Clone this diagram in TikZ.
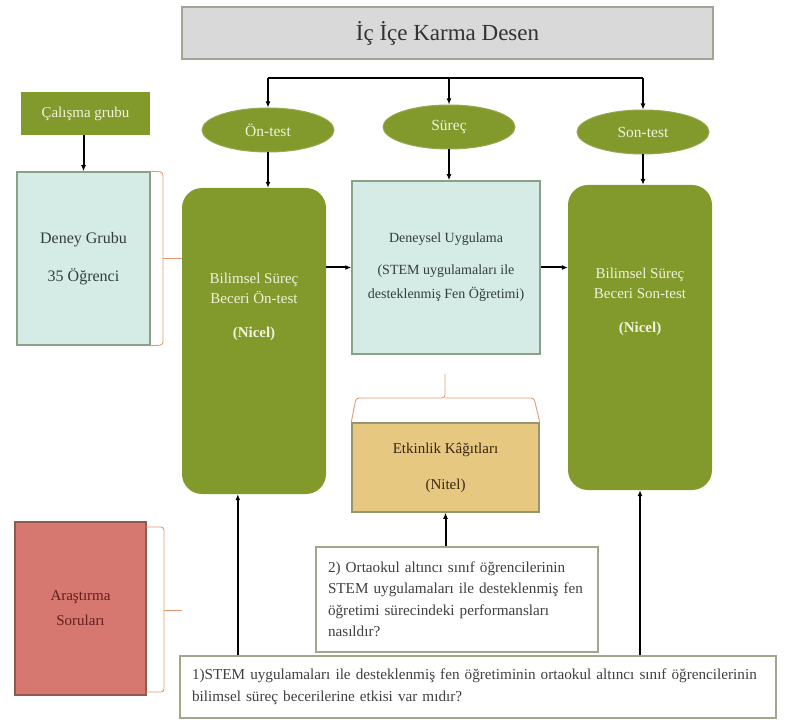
\documentclass[tikz,border=0pt]{standalone}
\usepackage{fontspec}
\setmainfont{Liberation Serif}
\usetikzlibrary{arrows.meta,shapes.geometric}
\definecolor{stemgreen}{RGB}{130,154,44}
\definecolor{gtext}{RGB}{240,242,220}
\definecolor{cyanbox}{RGB}{213,235,229}
\definecolor{cyanline}{RGB}{140,160,135}
\definecolor{titlegray}{RGB}{217,217,217}
\definecolor{titleline}{RGB}{160,165,150}
\definecolor{tanbox}{RGB}{230,200,128}
\definecolor{tanline}{RGB}{150,150,110}
\definecolor{redbox}{RGB}{214,120,112}
\definecolor{redline}{RGB}{140,90,80}
\definecolor{redtext}{RGB}{100,30,30}
\definecolor{bracecol}{RGB}{232,150,110}
\definecolor{qline}{RGB}{160,168,140}
\definecolor{darktext}{RGB}{50,62,58}
\begin{document}
\begin{tikzpicture}[x=1pt,y=-1pt,
        tsty/.style={rectangle,draw=titleline,line width=1.5pt,fill=titlegray,
            minimum width=531pt,minimum height=52pt,text=black!80,
            font=\fontsize{23}{27}\selectfont},
        esty/.style={ellipse,fill=stemgreen,draw=stemgreen!85!white,line width=1pt,
            minimum width=132pt,minimum height=44pt,inner sep=0pt,text=gtext,
            font=\fontsize{15.5}{18}\selectfont},
        gsty/.style={rectangle,rounded corners=20pt,fill=stemgreen,
            minimum width=144pt,minimum height=306pt},
        gtsty/.style={align=center,text=gtext,font=\fontsize{15}{20}\selectfont},
        csty/.style={rectangle,draw=cyanline,line width=1.5pt,fill=cyanbox,
            align=center,text=darktext,font=\fontsize{15}{20}\selectfont},
        qsty/.style={rectangle,draw=qline,line width=2pt,fill=white,align=left,
            text=black!75,inner sep=12pt,font=\fontsize{15.2}{21.5}\selectfont},
        asty/.style={-{Latex[length=6pt,width=5pt]},line width=2pt},
        bsty/.style={draw=bracecol,line width=0.9pt,rounded corners=3pt},
    ]
    \useasboundingbox (0,0) rectangle (785,722);
    \node (title) at (447.5,33) [tsty] {İç İçe Karma Desen};
    \foreach \n/\x/\y/\t in {ont/268/130/Ön-test,sur/449/127/Süreç,sont/643/132/Son-test}{
        \node (\n) at (\x,\y) [esty] {\t};
    }
    \coordinate (bus) at (0,78);
    \draw[line width=2pt] (ont.north |- bus) -- (sont.north |- bus);
    \foreach \n in {ont,sur,sont}{
        \draw[asty] (\n.north |- bus) -- (\n.north);
    }
    % left column
    \node (grp) at (85.5,113.5) [rectangle,fill=stemgreen,minimum width=129pt,
        minimum height=43pt,text=gtext,font=\fontsize{15}{18}\selectfont] {Çalışma grubu};
    \node (deney) at (83.5,258.5) [csty,minimum width=133pt,minimum height=173pt,
        font=\fontsize{16}{20}\selectfont] {Deney Grubu\\[18pt]35 Öğrenci};
    \draw[asty] (grp.south -| deney.north) -- (deney.north);
    \draw[bsty] (deney.north east) -- (163,172) -- (163,345) -- (deney.south east);
    \draw[bsty] (163,258) -- (182,258);
    \node (aras) at (80.5,608.5) [rectangle,draw=redline,line width=1.5pt,fill=redbox,
        minimum width=131pt,minimum height=173pt,align=center,text=redtext,
        font=\fontsize{15}{25}\selectfont] {Araştırma\\Soruları};
    \draw[bsty] (146,527) -- (164,527) -- (164,692) -- (146,692);
    \draw[bsty] (164,610) -- (182,610);
    % main row
    \node (onbox) at (254,341) [gsty] {};
    \node (ontxt) at (254,307) [gtsty] {Bilimsel Süreç\\Beceri Ön-test\\[14pt]\textbf{(Nicel)}};
    \node (deneysel) at (446,267.5) [csty,minimum width=188pt,minimum height=173pt,
        font=\fontsize{14}{24}\selectfont]
        {Deneysel Uygulama\\[8pt](STEM uygulamaları ile\\desteklenmiş Fen Öğretimi)};
    \node (sonbox) at (640,337.5) [gsty,minimum height=305pt] {};
    \node (sontxt) at (640,302) [gtsty] {Bilimsel Süreç\\Beceri Son-test\\[14pt]\textbf{(Nicel)}};
    \draw[asty] (ont.south) -- (ont.south |- onbox.north);
    \draw[asty] (sur.south) -- (sur.south |- deneysel.north);
    \draw[asty] (sont.south) -- (sont.south |- sonbox.north);
    \draw[asty] (onbox.east |- deneysel.west) -- (deneysel.west);
    \draw[asty] (deneysel.east) -- (deneysel.east -| sonbox.west);
    % etkinlik
    \node (etk) at (445.5,467.5) [rectangle,draw=tanline,line width=1.5pt,fill=tanbox,
        minimum width=187pt,minimum height=89pt,align=center,text=black!70!brown,
        font=\fontsize{15}{22}\selectfont] {Etkinlik Kâğıtları\\[14pt](Nitel)};
    \draw[bsty] (etk.north west) -- (356,398) -- (445,398) -- (445,374);
    \draw[bsty] (445,398) -- (534,398) -- (etk.north east);
    % questions
    \node (q2) at (457,599.5) [qsty,minimum width=282pt,minimum height=105pt,
        text width=258pt] {2) Ortaokul altıncı sınıf öğrencilerinin\\STEM uygulamaları ile desteklenmiş fen\\öğretimi sürecindeki performansları\\nasıldır?};
    \node (q1) at (478,687) [qsty,minimum width=596pt,minimum height=62pt,
        text width=572pt] {1)STEM uygulamaları ile desteklenmiş fen öğretiminin ortaokul altıncı sınıf öğrencilerinin\\bilimsel süreç becerilerine etkisi var mıdır?};
    \draw[asty] (etk.south |- q2.north) -- (etk.south);
    \draw[asty] ([xshift=56pt]onbox.south west |- q1.north) -- ([xshift=56pt]onbox.south west);
    \draw[asty] (sonbox.south |- q1.north) -- (sonbox.south);
\end{tikzpicture}
\end{document}
